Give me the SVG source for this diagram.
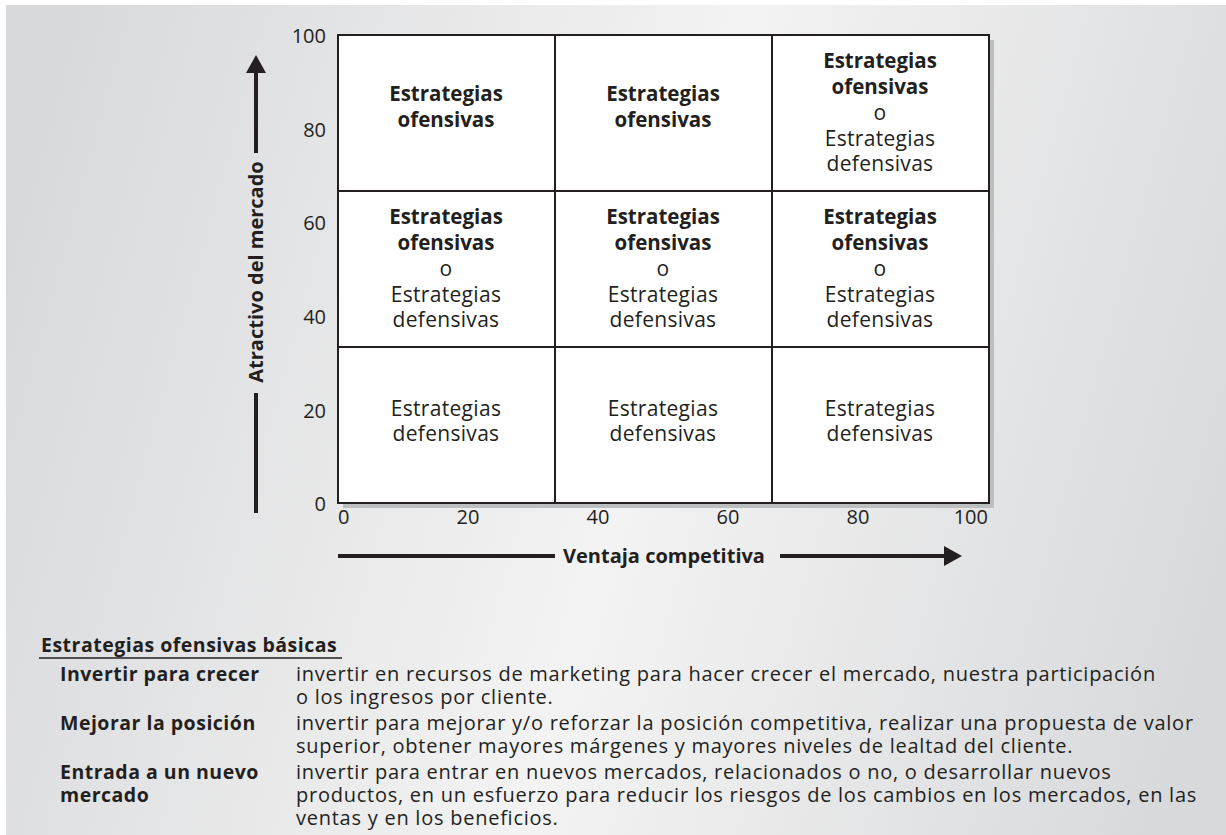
<svg xmlns="http://www.w3.org/2000/svg" width="1226" height="835" viewBox="0 0 1226 835">
<defs>
<linearGradient id="bg" gradientUnits="userSpaceOnUse" x1="0" y1="250" x2="1226" y2="585">
<stop offset="0" stop-color="#d8d9db"/>
<stop offset="0.52" stop-color="#f3f3f3"/>
<stop offset="1" stop-color="#d8d9db"/>
</linearGradient>
<marker id="arr" viewBox="0 0 18 20" markerUnits="userSpaceOnUse" markerWidth="18" markerHeight="20" refX="2" refY="10" orient="auto">
<path d="M0,0 L18,10 L0,20 z" fill="#231f20"/>
</marker>
</defs>
<style>
text{font-family:"Open Sans","Liberation Sans",sans-serif;fill:#231f20}
.c{font-size:21px;letter-spacing:0.3px;text-anchor:middle}
.c.b{font-size:20.5px;letter-spacing:0}
.b{font-weight:bold}
.t{font-size:20px}
.ty{text-anchor:end}
.tx{text-anchor:middle}
.ax{font-size:20px;font-weight:bold}
.lg{font-size:20px;letter-spacing:0.75px}
.lg.b{font-size:19.5px;letter-spacing:0.5px}
.grid{fill:none;stroke:#231f20;stroke-width:2}
.axis{stroke:#231f20;stroke-width:4;fill:none}
</style>
<rect x="6" y="5" width="1220" height="830" fill="url(#bg)"/>
<g id="matrix">
<rect x="343" y="40" width="651" height="468" fill="#bcbec0"/>
<rect x="338" y="35" width="651" height="468" fill="#ffffff"/>
<path class="grid" d="M338,35 H989 V503 H338 Z M555,35 V503 M772,35 V503 M338,191 H989 M338,347 H989"/>
</g>
<g id="cell-1-1">
<text class="c b" x="446" y="101">Estrategias</text>
<text class="c b" x="446" y="127">ofensivas</text>
</g>
<g id="cell-1-2">
<text class="c b" x="663" y="101">Estrategias</text>
<text class="c b" x="663" y="127">ofensivas</text>
</g>
<g id="cell-1-3">
<text class="c b" x="880" y="68">Estrategias</text>
<text class="c b" x="880" y="94">ofensivas</text>
<text class="c" x="880" y="120">o</text>
<text class="c" x="880" y="146">Estrategias</text>
<text class="c" x="880" y="171">defensivas</text>
</g>
<g id="cell-2-1">
<text class="c b" x="446" y="224">Estrategias</text>
<text class="c b" x="446" y="250">ofensivas</text>
<text class="c" x="446" y="276">o</text>
<text class="c" x="446" y="302">Estrategias</text>
<text class="c" x="446" y="327">defensivas</text>
</g>
<g id="cell-2-2">
<text class="c b" x="663" y="224">Estrategias</text>
<text class="c b" x="663" y="250">ofensivas</text>
<text class="c" x="663" y="276">o</text>
<text class="c" x="663" y="302">Estrategias</text>
<text class="c" x="663" y="327">defensivas</text>
</g>
<g id="cell-2-3">
<text class="c b" x="880" y="224">Estrategias</text>
<text class="c b" x="880" y="250">ofensivas</text>
<text class="c" x="880" y="276">o</text>
<text class="c" x="880" y="302">Estrategias</text>
<text class="c" x="880" y="327">defensivas</text>
</g>
<g id="cell-3-1">
<text class="c" x="446" y="416">Estrategias</text>
<text class="c" x="446" y="441">defensivas</text>
</g>
<g id="cell-3-2">
<text class="c" x="663" y="416">Estrategias</text>
<text class="c" x="663" y="441">defensivas</text>
</g>
<g id="cell-3-3">
<text class="c" x="880" y="416">Estrategias</text>
<text class="c" x="880" y="441">defensivas</text>
</g>
<g id="y-ticks">
<text class="t ty" x="326" y="43">100</text>
<text class="t ty" x="326" y="137">80</text>
<text class="t ty" x="326" y="230">60</text>
<text class="t ty" x="326" y="324">40</text>
<text class="t ty" x="326" y="418">20</text>
<text class="t ty" x="326" y="511">0</text>
</g>
<g id="x-ticks">
<text class="t" x="338" y="524">0</text>
<text class="t tx" x="468" y="524">20</text>
<text class="t tx" x="598" y="524">40</text>
<text class="t tx" x="728" y="524">60</text>
<text class="t tx" x="858" y="524">80</text>
<text class="t ty" x="988" y="524">100</text>
</g>
<g id="connectors">
<line class="axis" x1="256" y1="153" x2="256" y2="71" marker-end="url(#arr)"/>
<line class="axis" x1="256" y1="393" x2="256" y2="513"/>
<line class="axis" x1="338" y1="556" x2="555" y2="556"/>
<line class="axis" x1="780" y1="556" x2="946" y2="556" marker-end="url(#arr)"/>
</g>
<g id="y-label">
<text class="ax" text-anchor="middle" transform="translate(263,272) rotate(-90)">Atractivo del mercado</text>
</g>
<g id="x-label">
<text class="ax" text-anchor="middle" x="664" y="563">Ventaja competitiva</text>
</g>
<g id="legend">
<text class="lg b" x="41" y="652">Estrategias ofensivas básicas</text>
<line x1="39" y1="658" x2="342" y2="658" stroke="#231f20" stroke-width="1.5"/>
<text class="lg b" x="60" y="681">Invertir para crecer</text>
<text class="lg" x="296" y="681">invertir en recursos de marketing para hacer crecer el mercado, nuestra participación</text>
<text class="lg" x="296" y="704">o los ingresos por cliente.</text>
<text class="lg b" x="60" y="730">Mejorar la posición</text>
<text class="lg" x="296" y="730">invertir para mejorar y/o reforzar la posición competitiva, realizar una propuesta de valor</text>
<text class="lg" x="296" y="753">superior, obtener mayores márgenes y mayores niveles de lealtad del cliente.</text>
<text class="lg b" x="60" y="779">Entrada a un nuevo</text>
<text class="lg" x="296" y="779">invertir para entrar en nuevos mercados, relacionados o no, o desarrollar nuevos</text>
<text class="lg b" x="60" y="802">mercado</text>
<text class="lg" x="296" y="802">productos, en un esfuerzo para reducir los riesgos de los cambios en los mercados, en las</text>
<text class="lg" x="296" y="825">ventas y en los beneficios.</text>
</g>
</svg>
